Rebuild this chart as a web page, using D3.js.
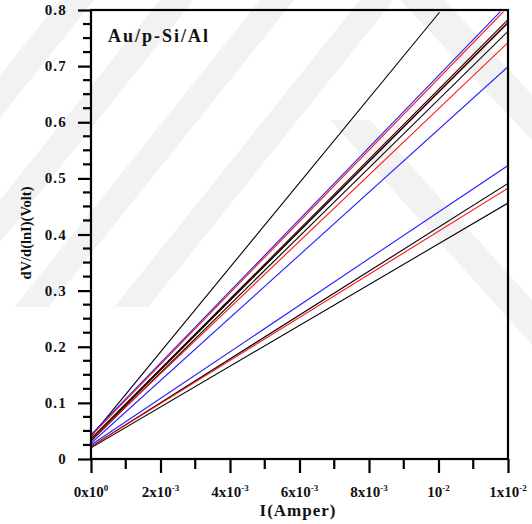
<!DOCTYPE html>
<html>
<head>
<meta charset="utf-8">
<script src="https://cdn.jsdelivr.net/npm/d3@7"></script>
<style>
  html, body { margin: 0; padding: 0; background: #ffffff; }
  svg { display: block; }
  text { font-family: "Liberation Serif", "Times New Roman", serif; font-weight: bold; fill: #111; }
</style>
</head>
<body>
<svg id="chart" width="532" height="524"></svg>
<script>
// Measured curves dV/d(lnI) versus I for the Au/p-Si/Al diode.
// Each curve: value at I = 0, the last current plotted and the value there.
const curveStartV = [0.040, 0.043, 0.041, 0.036, 0.034, 0.035, 0.032, 0.034, 0.028, 0.025, 0.022, 0.022, 0.020];
const curveEndI   = [0.01003, 0.01178, 0.01187, 0.012, 0.012, 0.012, 0.012, 0.012, 0.012, 0.012, 0.012, 0.012, 0.012];
const curveEndV   = [0.796, 0.797, 0.797, 0.783, 0.779, 0.777, 0.762, 0.742, 0.699, 0.523, 0.491, 0.4825, 0.456];
const curveColor  = ["#000000", "#2020ff", "#ff1010", "#000000", "#ff1010", "#000000", "#000000", "#ff1010", "#2020ff", "#2020ff", "#000000", "#ff1010", "#000000"];

const xTickValues = [0, 0.002, 0.004, 0.006, 0.008, 0.010, 0.012];
const xTickMant   = ["0x10", "2x10", "4x10", "6x10", "8x10", "10", "1x10"];
const xTickExp    = ["0", "-3", "-3", "-3", "-3", "-2", "-2"];
const yTickValues = [0, 0.1, 0.2, 0.3, 0.4, 0.5, 0.6, 0.7, 0.8];
const yTickLabels = ["0", "0.1", "0.2", "0.3", "0.4", "0.5", "0.6", "0.7", "0.8"];

const svg = d3.select("#chart");
const W = 532, H = 524;
const margin = { left: 91, right: 24, top: 10, bottom: 65 };

const x = d3.scaleLinear().domain([0, 0.012]).range([margin.left, W - margin.right]);
const y = d3.scaleLinear().domain([0, 0.8]).range([H - margin.bottom, margin.top]);

// faint diagonal background emblem
const wm = svg.append("g").attr("fill", "#f2f2f2");
const stripeStarts = [-40, 60, 160, 260, 360];
const stripeW = 34, slope = 1.25, bottomY = 307;
stripeStarts.forEach(s => {
  const pts = [[s, 0], [s + stripeW, 0],
               [s + stripeW - bottomY / slope, bottomY], [s - bottomY / slope, bottomY]];
  wm.append("polygon").attr("points", pts.map(p => p.join(",")).join(" "));
});
wm.append("polygon").attr("points", "330,120 370,120 532,300 532,345");
wm.append("polygon").attr("points", "400,0 445,0 532,95 532,140");

// curves
const clipId = "plotClip";
svg.append("clipPath").attr("id", clipId).append("rect")
  .attr("x", x(0)).attr("y", y(0.8)).attr("width", x(0.012) - x(0)).attr("height", y(0) - y(0.8));

const line = d3.line().x(d => x(d[0])).y(d => y(d[1]));
const curves = curveStartV.map((v0, i) => [[0, v0], [curveEndI[i], curveEndV[i]]]);
svg.append("g").attr("clip-path", `url(#${clipId})`)
  .selectAll("path").data(curves).join("path")
  .attr("d", line)
  .attr("fill", "none")
  .attr("stroke", (d, i) => curveColor[i])
  .attr("stroke-width", 1.1);

// frame
svg.append("rect")
  .attr("x", x(0)).attr("y", y(0.8))
  .attr("width", x(0.012) - x(0)).attr("height", y(0) - y(0.8))
  .attr("fill", "none").attr("stroke", "#000").attr("stroke-width", 2.2);

// y axis
const yAxis = d3.axisLeft(y).tickValues(yTickValues).tickSize(13).tickFormat("");
const gy = svg.append("g").attr("transform", `translate(${x(0)},0)`).call(yAxis);
gy.select(".domain").remove();
gy.selectAll(".tick line").attr("stroke", "#000").attr("stroke-width", 2.2);
const yMinor = d3.range(0.025, 0.8, 0.025).filter(v => Math.abs(v * 10 - Math.round(v * 10)) > 1e-6);
gy.selectAll(".minor").data(yMinor).join("line")
  .attr("x1", -8).attr("x2", 0).attr("y1", d => y(d)).attr("y2", d => y(d))
  .attr("stroke", "#000").attr("stroke-width", 2.2);
svg.append("g").selectAll("text").data(yTickValues).join("text")
  .attr("x", 67).attr("y", d => y(d) + 5)
  .attr("text-anchor", "end")
  .attr("font-size", 15).attr("letter-spacing", 1.2)
  .text((d, i) => yTickLabels[i]);

// x axis
const xAxis = d3.axisBottom(x).tickValues(xTickValues).tickSize(14).tickFormat("");
const gx = svg.append("g").attr("transform", `translate(0,${y(0)})`).call(xAxis);
gx.select(".domain").remove();
gx.selectAll(".tick line").attr("stroke", "#000").attr("stroke-width", 2.2);
const xMinor = [0.001, 0.003, 0.005, 0.007, 0.009, 0.011];
gx.selectAll(".minor").data(xMinor).join("line")
  .attr("x1", d => x(d)).attr("x2", d => x(d)).attr("y1", 0).attr("y2", 10)
  .attr("stroke", "#000").attr("stroke-width", 2.2);
const xl = svg.append("g").selectAll("text").data(xTickValues).join("text")
  .attr("x", d => x(d)).attr("y", 497)
  .attr("text-anchor", "middle")
  .attr("font-size", 15);
xl.append("tspan").text((d, i) => xTickMant[i]);
xl.append("tspan").attr("dy", -6).attr("font-size", 9).text((d, i) => xTickExp[i]);

// axis titles
svg.append("text").attr("x", 298).attr("y", 516)
  .attr("text-anchor", "middle").attr("font-size", 17).attr("letter-spacing", 1)
  .text("I(Amper)");
svg.append("text").attr("transform", "translate(31,233) rotate(-90)")
  .attr("text-anchor", "middle").attr("font-size", 14.5)
  .text("dV/d(lnI)(Volt)");

// sample label
svg.append("text").attr("x", 108).attr("y", 42)
  .attr("font-size", 18).attr("letter-spacing", 2)
  .text("Au/p-Si/Al");
</script>
</body>
</html>
